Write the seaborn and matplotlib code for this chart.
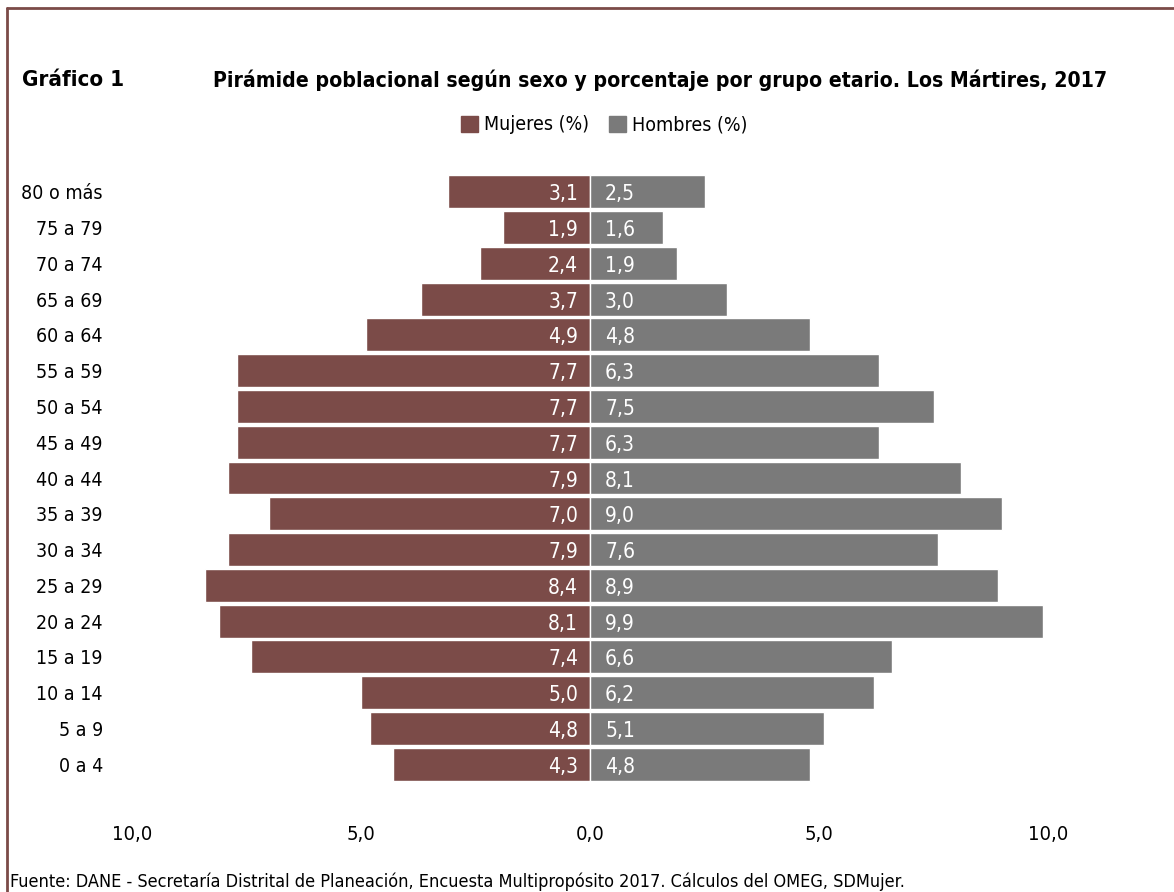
import matplotlib
matplotlib.use('Agg')
import matplotlib.pyplot as plt
import matplotlib.patches as mpatches
from matplotlib import font_manager
from matplotlib.lines import Line2D
import pandas as pd
import seaborn as sns

# Data
grupos = ['0 a 4', '5 a 9', '10 a 14', '15 a 19', '20 a 24', '25 a 29', '30 a 34',
          '35 a 39', '40 a 44', '45 a 49', '50 a 54', '55 a 59', '60 a 64',
          '65 a 69', '70 a 74', '75 a 79', '80 o más']
mujeres = [4.3, 4.8, 5.0, 7.4, 8.1, 8.4, 7.9, 7.0, 7.9, 7.7, 7.7, 7.7, 4.9, 3.7, 2.4, 1.9, 3.1]
hombres = [4.8, 5.1, 6.2, 6.6, 9.9, 8.9, 7.6, 9.0, 8.1, 6.3, 7.5, 6.3, 4.8, 3.0, 1.9, 1.6, 2.5]
xticks = [-10, -5, 0, 5, 10]
xtick_labels = ['10,0', '5,0', '0,0', '5,0', '10,0']

COL_M = '#7B4B48'
COL_H = '#7A7A7A'

sns.set_theme(style='white')

# look for a narrow / condensed face, else fall back to DejaVu Sans with smaller sizes
narrow = None
for f in font_manager.fontManager.ttflist:
    if f.stretch in ('condensed', 'semi-condensed', 'extra-condensed') or 'Narrow' in f.name:
        narrow = f
        break
if narrow is not None:
    plt.rcParams['font.family'] = [narrow.name, 'DejaVu Sans']
    plt.rcParams['font.stretch'] = narrow.stretch
    k = 1.0
else:
    plt.rcParams['font.family'] = ['DejaVu Sans']
    k = 0.85
plt.rcParams['text.color'] = 'black'
plt.rcParams['xtick.color'] = 'black'
plt.rcParams['ytick.color'] = 'black'

df = pd.DataFrame({'grupo': grupos, 'mujeres': [-v for v in mujeres], 'hombres': hombres})
order = grupos[::-1]

fig = plt.figure(figsize=(11.74, 8.92), dpi=100)
ax = fig.add_axes([132 / 1174, 1 - 782 / 892, (1048 - 132) / 1174, (782 - 174) / 892])

sns.barplot(data=df, x='mujeres', y='grupo', order=order, color=COL_M, saturation=1,
            width=0.92, edgecolor='white', linewidth=1, ax=ax, orient='h')
sns.barplot(data=df, x='hombres', y='grupo', order=order, color=COL_H, saturation=1,
            width=0.92, edgecolor='white', linewidth=1, ax=ax, orient='h')

ax.set_xlim(-10, 10)
ax.set_ylim(16.5, -0.5)
ax.set_xticks(xticks)
ax.set_xticklabels(xtick_labels, fontsize=14.5 * k)
ax.tick_params(axis='x', pad=31, length=0)
ax.tick_params(axis='y', pad=21, length=0, labelsize=14 * k)
ax.set_xlabel('')
ax.set_ylabel('')
for s in ax.spines.values():
    s.set_visible(False)

# value labels
for i, g in enumerate(order):
    j = grupos.index(g)
    ax.text(-0.26, i + 0.07, f'{mujeres[j]:.1f}'.replace('.', ','), ha='right', va='center',
            color='white', fontsize=15 * k)
    ax.text(0.33, i + 0.07, f'{hombres[j]:.1f}'.replace('.', ','), ha='left', va='center',
            color='white', fontsize=15 * k)

# legend
handles = [mpatches.Patch(color=COL_M, label='Mujeres (%)'),
           mpatches.Patch(color=COL_H, label='Hombres (%)')]
fig.legend(handles=handles, loc='center', bbox_to_anchor=(604 / 1174, 1 - 125 / 892), ncol=2,
           frameon=False, fontsize=14 * k, handlelength=0.9, handleheight=0.9,
           handletextpad=0.3, columnspacing=1.0)

# titles and source
fig.text(22 / 1174, 1 - 80 / 892, 'Gráfico 1', fontsize=16 * k, fontweight='bold', va='center')
fig.text(660 / 1174, 1 - 80 / 892,
         'Pirámide poblacional según sexo y porcentaje por grupo etario. Los Mártires, 2017',
         fontsize=15.2 * k, fontweight='bold', va='center', ha='center')
fig.text(10 / 1174, 1 - 882 / 892,
         'Fuente: DANE - Secretaría Distrital de Planeación, Encuesta Multipropósito 2017. '
         'Cálculos del OMEG, SDMujer.', fontsize=13 * k, va='center')

# frame (top and left)
fig.add_artist(Line2D([7 / 1174, 1], [1 - 8 / 892, 1 - 8 / 892], color=COL_M, lw=2))
fig.add_artist(Line2D([7 / 1174, 7 / 1174], [0, 1 - 8 / 892], color=COL_M, lw=2))

fig.savefig('out.png', dpi=100)
